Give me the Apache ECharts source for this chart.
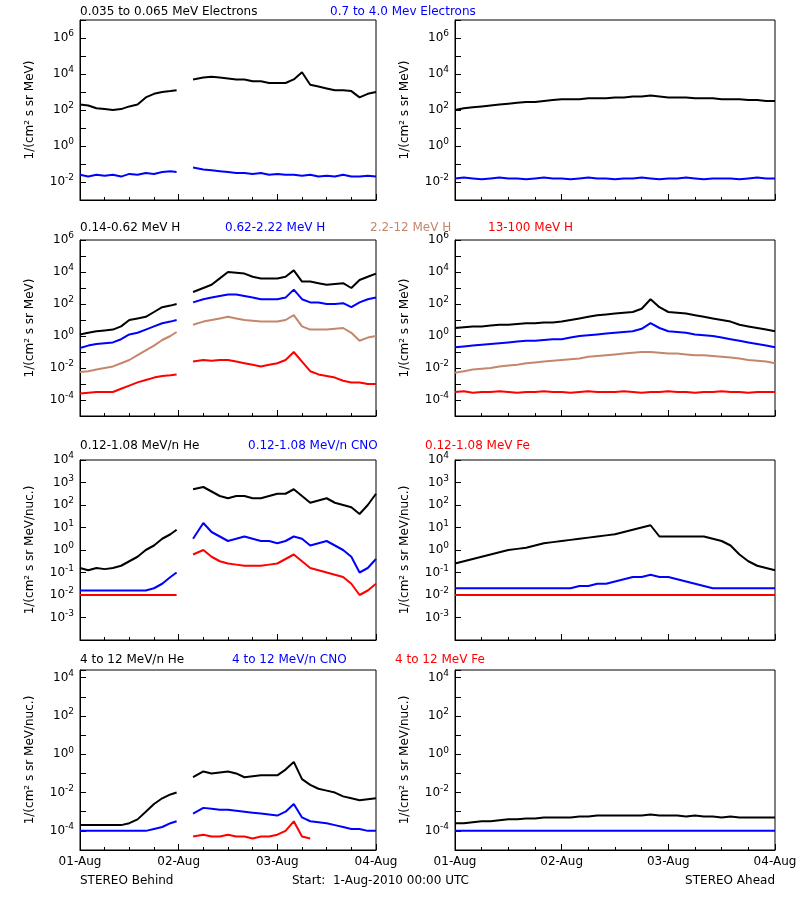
<!DOCTYPE html>
<html>
<head>
<meta charset="utf-8">
<script src="https://cdn.jsdelivr.net/npm/echarts@6/dist/echarts.min.js"></script>
<style>body{margin:0;background:#fff}#main{width:800px;height:900px}</style>
</head>
<body>
<div id="main"></div>
<script>
var chart = echarts.init(document.getElementById('main'));

// hours since 01-Aug 00:00; left (Behind) has a data gap after 02-Aug
var hoursL = [0,2,4,6,8,10,12,14,16,18,20,22,23.5,25,27.5,30,32,34,36,38,40,42,44,46,48,50,52,54,56,58,60,62,64,66,68,70,72];
var hoursR = [0,2,4,6,8,10,12,14,16,18,20,22,24,26,28,30,32,34,36,38,40,42,44,46,48,50,52,54,56,58,60,62,64,66,68,70,72];
var dayLabels = {0: '01-Aug', 24: '02-Aug', 48: '03-Aug', 72: '04-Aug'};

// values stored as log10 of flux
// row 1: electrons
var eLoL = [2.3,2.25,2.1,2.05,2.0,2.05,2.2,2.3,2.7,2.9,3.0,3.05,3.1,null,3.7,3.8,3.85,3.8,3.75,3.7,3.7,3.6,3.6,3.5,3.5,3.5,3.7,4.1,3.4,3.3,3.2,3.1,3.1,3.05,2.7,2.9,3.0];
var eHiL = [-1.6,-1.7,-1.6,-1.65,-1.6,-1.7,-1.55,-1.6,-1.5,-1.55,-1.45,-1.4,-1.45,null,-1.2,-1.3,-1.35,-1.4,-1.45,-1.5,-1.5,-1.55,-1.5,-1.6,-1.55,-1.6,-1.6,-1.65,-1.6,-1.7,-1.65,-1.7,-1.6,-1.7,-1.7,-1.65,-1.7];
var eLoR = [2.0,2.1,2.15,2.2,2.25,2.3,2.35,2.4,2.45,2.45,2.5,2.55,2.6,2.6,2.6,2.65,2.65,2.65,2.7,2.7,2.75,2.75,2.8,2.75,2.7,2.7,2.7,2.65,2.65,2.65,2.6,2.6,2.6,2.55,2.55,2.5,2.5];
var eHiR = [-1.8,-1.75,-1.8,-1.85,-1.8,-1.75,-1.8,-1.8,-1.85,-1.8,-1.75,-1.8,-1.8,-1.85,-1.8,-1.75,-1.8,-1.8,-1.85,-1.8,-1.8,-1.75,-1.8,-1.85,-1.8,-1.8,-1.75,-1.8,-1.85,-1.8,-1.8,-1.8,-1.85,-1.8,-1.75,-1.8,-1.8];
// row 2: protons
var h1L = [0.1,0.2,0.3,0.35,0.4,0.6,1.0,1.1,1.2,1.5,1.8,1.9,2.0,null,2.75,3.0,3.2,3.6,4.0,3.95,3.9,3.7,3.6,3.6,3.6,3.7,4.1,3.4,3.4,3.3,3.2,3.25,3.3,3.0,3.5,3.7,3.9];
var h2L = [-0.75,-0.6,-0.5,-0.45,-0.4,-0.2,0.1,0.2,0.4,0.6,0.8,0.9,1.0,null,2.1,2.3,2.4,2.5,2.6,2.6,2.5,2.4,2.3,2.3,2.3,2.4,2.9,2.3,2.1,2.1,2.0,2.0,2.05,1.8,2.1,2.3,2.4];
var h3L = [-2.25,-2.2,-2.1,-2.0,-1.9,-1.7,-1.5,-1.2,-0.9,-0.6,-0.25,0.0,0.25,null,0.7,0.9,1.0,1.1,1.2,1.1,1.0,0.95,0.9,0.9,0.9,1.0,1.3,0.6,0.4,0.4,0.4,0.45,0.5,0.2,-0.3,-0.1,0.0];
var h4L = [-3.6,-3.55,-3.5,-3.5,-3.5,-3.3,-3.1,-2.9,-2.75,-2.6,-2.5,-2.45,-2.4,null,-1.6,-1.5,-1.55,-1.5,-1.5,-1.6,-1.7,-1.8,-1.9,-1.8,-1.7,-1.5,-1.0,-1.6,-2.2,-2.4,-2.5,-2.6,-2.8,-2.9,-2.9,-3.0,-3.0];
var h1R = [0.5,0.55,0.6,0.6,0.65,0.7,0.7,0.75,0.8,0.8,0.85,0.85,0.9,1.0,1.1,1.2,1.3,1.35,1.4,1.45,1.5,1.7,2.3,1.8,1.5,1.45,1.4,1.3,1.2,1.1,1.0,0.9,0.7,0.6,0.5,0.4,0.3];
var h2R = [-0.7,-0.65,-0.6,-0.55,-0.5,-0.45,-0.4,-0.35,-0.3,-0.3,-0.25,-0.2,-0.2,-0.1,0.0,0.05,0.1,0.15,0.2,0.25,0.3,0.45,0.8,0.5,0.3,0.25,0.2,0.1,0.05,0.0,-0.1,-0.2,-0.3,-0.4,-0.5,-0.6,-0.7];
var h3R = [-2.3,-2.2,-2.1,-2.05,-2.0,-1.9,-1.85,-1.8,-1.7,-1.65,-1.6,-1.55,-1.5,-1.45,-1.4,-1.3,-1.25,-1.2,-1.15,-1.1,-1.05,-1.0,-1.0,-1.05,-1.1,-1.1,-1.15,-1.2,-1.2,-1.25,-1.3,-1.35,-1.4,-1.5,-1.55,-1.6,-1.7];
var h4R = [-3.5,-3.45,-3.55,-3.5,-3.5,-3.45,-3.5,-3.55,-3.5,-3.5,-3.45,-3.5,-3.5,-3.55,-3.5,-3.45,-3.5,-3.5,-3.5,-3.45,-3.5,-3.55,-3.5,-3.5,-3.45,-3.5,-3.5,-3.55,-3.5,-3.5,-3.45,-3.5,-3.5,-3.55,-3.5,-3.5,-3.5];
// row 3: 0.12-1.08 MeV/n ions
var lo1L = [-0.8,-0.9,-0.8,-0.85,-0.8,-0.7,-0.5,-0.3,0.0,0.2,0.5,0.7,0.9,null,2.7,2.8,2.6,2.4,2.3,2.4,2.4,2.3,2.3,2.4,2.5,2.5,2.7,2.4,2.1,2.2,2.3,2.1,2.0,1.9,1.6,2.0,2.5];
var lo2L = [-1.8,-1.8,-1.8,-1.8,-1.8,-1.8,-1.8,-1.8,-1.8,-1.7,-1.5,-1.2,-1.0,null,0.5,1.2,0.8,0.6,0.4,0.5,0.6,0.5,0.4,0.4,0.3,0.4,0.6,0.5,0.2,0.3,0.4,0.2,0.0,-0.3,-1.0,-0.8,-0.4];
var lo3L = [-2.0,-2.0,-2.0,-2.0,-2.0,-2.0,-2.0,-2.0,-2.0,-2.0,-2.0,-2.0,-2.0,null,-0.2,0.0,-0.3,-0.5,-0.6,-0.65,-0.7,-0.7,-0.7,-0.65,-0.6,-0.4,-0.2,-0.5,-0.8,-0.9,-1.0,-1.1,-1.2,-1.5,-2.0,-1.8,-1.5];
var lo1R = [-0.6,-0.5,-0.4,-0.3,-0.2,-0.1,0.0,0.05,0.1,0.2,0.3,0.35,0.4,0.45,0.5,0.55,0.6,0.65,0.7,0.8,0.9,1.0,1.1,0.6,0.6,0.6,0.6,0.6,0.6,0.5,0.4,0.2,-0.2,-0.5,-0.7,-0.8,-0.9];
var lo2R = [-1.7,-1.7,-1.7,-1.7,-1.7,-1.7,-1.7,-1.7,-1.7,-1.7,-1.7,-1.7,-1.7,-1.7,-1.6,-1.6,-1.5,-1.5,-1.4,-1.3,-1.2,-1.2,-1.1,-1.2,-1.2,-1.3,-1.4,-1.5,-1.6,-1.7,-1.7,-1.7,-1.7,-1.7,-1.7,-1.7,-1.7];
var lo3R = [-2.0,-2.0,-2.0,-2.0,-2.0,-2.0,-2.0,-2.0,-2.0,-2.0,-2.0,-2.0,-2.0,-2.0,-2.0,-2.0,-2.0,-2.0,-2.0,-2.0,-2.0,-2.0,-2.0,-2.0,-2.0,-2.0,-2.0,-2.0,-2.0,-2.0,-2.0,-2.0,-2.0,-2.0,-2.0,-2.0,-2.0];
// row 4: 4 to 12 MeV/n ions
var hi1L = [-3.7,-3.7,-3.7,-3.7,-3.7,-3.7,-3.6,-3.4,-3.0,-2.6,-2.3,-2.1,-2.0,null,-1.2,-0.9,-1.0,-0.95,-0.9,-1.0,-1.2,-1.15,-1.1,-1.1,-1.1,-0.8,-0.4,-1.3,-1.6,-1.8,-1.9,-2.0,-2.2,-2.3,-2.4,-2.35,-2.3];
var hi2L = [-4.0,-4.0,-4.0,-4.0,-4.0,-4.0,-4.0,-4.0,-4.0,-3.9,-3.8,-3.6,-3.5,null,-3.1,-2.8,-2.85,-2.9,-2.9,-2.95,-3.0,-3.05,-3.1,-3.15,-3.2,-3.0,-2.6,-3.3,-3.5,-3.55,-3.6,-3.7,-3.8,-3.9,-3.9,-4.0,-4.0];
var hi3L = [null,null,null,null,null,null,null,null,null,null,null,null,null,null,-4.3,-4.2,-4.3,-4.3,-4.2,-4.3,-4.3,-4.4,-4.3,-4.3,-4.2,-4.0,-3.5,-4.3,-4.4,null,null,null,null,null,null,null,null];
var hi1R = [-3.6,-3.6,-3.55,-3.5,-3.5,-3.45,-3.4,-3.4,-3.35,-3.35,-3.3,-3.3,-3.3,-3.3,-3.25,-3.25,-3.2,-3.2,-3.2,-3.2,-3.2,-3.2,-3.15,-3.2,-3.2,-3.2,-3.25,-3.2,-3.25,-3.25,-3.3,-3.25,-3.3,-3.3,-3.3,-3.3,-3.3];
var hi2R = [-4.0,-4.0,-4.0,-4.0,-4.0,-4.0,-4.0,-4.0,-4.0,-4.0,-4.0,-4.0,-4.0,-4.0,-4.0,-4.0,-4.0,-4.0,-4.0,-4.0,-4.0,-4.0,-4.0,-4.0,-4.0,-4.0,-4.0,-4.0,-4.0,-4.0,-4.0,-4.0,-4.0,-4.0,-4.0,-4.0,-4.0];

var BLACK = '#000', BLUE = '#0000ff', BROWN = '#c4876b', RED = '#ff0000';
var font = 'DejaVu Sans';

// row layout: top, height, log min, log max, label every n decades, axis name
var rows = [
    {top: 20, h: 180, min: -3, max: 7, step: 2, name: '1/(cm\u00b2 s sr MeV)'},
    {top: 240, h: 176, min: -5, max: 6, step: 2, name: '1/(cm\u00b2 s sr MeV)'},
    {top: 460, h: 180, min: -4, max: 4, step: 1, name: '1/(cm\u00b2 s sr MeV/nuc.)'},
    {top: 670, h: 180, min: -5, max: 4.4, step: 2, name: '1/(cm\u00b2 s sr MeV/nuc.)'}
];
var panels = [
    [[eLoL, BLACK], [eHiL, BLUE]],
    [[eLoR, BLACK], [eHiR, BLUE]],
    [[h1L, BLACK], [h2L, BLUE], [h3L, BROWN], [h4L, RED]],
    [[h1R, BLACK], [h2R, BLUE], [h3R, BROWN], [h4R, RED]],
    [[lo1L, BLACK], [lo2L, BLUE], [lo3L, RED]],
    [[lo1R, BLACK], [lo2R, BLUE], [lo3R, RED]],
    [[hi1L, BLACK], [hi2L, BLUE], [hi3L, RED]],
    [[hi1R, BLACK], [hi2R, BLUE]]
];

var grids = [], xAxes = [], yAxes = [], series = [];
panels.forEach(function(p, i) {
    var r = rows[Math.floor(i / 2)], right = i % 2 === 1, last = i >= 6;
    grids.push({left: right ? 455 : 80, width: right ? 320 : 296, top: r.top, height: r.h,
        show: true, borderColor: '#000', borderWidth: 1});
    xAxes.push({type: 'value', gridIndex: i, min: 0, max: 72, interval: 24,
        axisLine: {lineStyle: {color: '#000'}}, splitLine: {show: false},
        axisTick: {inside: true, length: 6, lineStyle: {color: '#000'}},
        minorTick: {show: true, splitNumber: 4, length: 3, lineStyle: {color: '#000'}},
        axisLabel: {show: last, color: '#000', fontFamily: font, fontSize: 12, margin: 6,
            formatter: function(v) { return dayLabels[v] || ''; }}});
    yAxes.push({type: 'log', logBase: 10, gridIndex: i, min: Math.pow(10, r.min), max: Math.pow(10, r.max),
        interval: 1, splitLine: {show: false},
        axisLine: {lineStyle: {color: '#000'}},
        axisTick: {inside: true, length: 6, lineStyle: {color: '#000'}},
        name: r.name, nameLocation: 'middle', nameGap: 44, nameRotate: 90,
        nameTextStyle: {color: '#000', fontFamily: font, fontSize: 12},
        axisLabel: {color: '#000', fontFamily: font, fontSize: 12, margin: 6,
            formatter: function(v) {
                var e = Math.round(Math.log10(v));
                if (Math.abs(Math.log10(v) - e) > 0.01 || e % r.step !== 0 || e > r.max || e <= r.min) return '';
                return '10{s|' + e + '}';
            },
            rich: {s: {fontSize: 9, padding: [0, 0, 8, 0], fontFamily: font}}}});
    var hrs = right ? hoursR : hoursL;
    p.forEach(function(s) {
        series.push({type: 'line', xAxisIndex: i, yAxisIndex: i, showSymbol: false, symbol: 'none',
            connectNulls: false, lineStyle: {color: s[1], width: 2}, silent: true, animation: false,
            data: s[0].map(function(v, k) { return [hrs[k], v === null ? null : Math.pow(10, v)]; })});
    });
});

function label(x, y, text, color, align) {
    return {type: 'text', left: align === 'right' ? null : x, right: align === 'right' ? x : null, top: y,
        style: {text: text, fill: color, font: '12px "DejaVu Sans"'}};
}
var graphics = [
    label(80, 6, '0.035 to 0.065 MeV Electrons', BLACK), label(330, 6, '0.7 to 4.0 Mev Electrons', BLUE),
    label(80, 222, '0.14-0.62 MeV H', BLACK), label(225, 222, '0.62-2.22 MeV H', BLUE),
    label(370, 222, '2.2-12 MeV H', BROWN), label(488, 222, '13-100 MeV H', RED),
    label(80, 440, '0.12-1.08 MeV/n He', BLACK), label(248, 440, '0.12-1.08 MeV/n CNO', BLUE),
    label(425, 440, '0.12-1.08 MeV Fe', RED),
    label(80, 654, '4 to 12 MeV/n He', BLACK), label(232, 654, '4 to 12 MeV/n CNO', BLUE),
    label(395, 654, '4 to 12 MeV Fe', RED),
    label(80, 875, 'STEREO Behind', BLACK), label(292, 875, 'Start:  1-Aug-2010 00:00 UTC', BLACK),
    label(25, 875, 'STEREO Ahead', BLACK, 'right')
];

var option = {
    backgroundColor: '#fff',
    animation: false,
    grid: grids,
    xAxis: xAxes,
    yAxis: yAxes,
    series: series,
    graphic: graphics
};
chart.setOption(option, true);
window.addEventListener('resize', function () {
    chart.resize();
});
</script>
</body>
</html>
